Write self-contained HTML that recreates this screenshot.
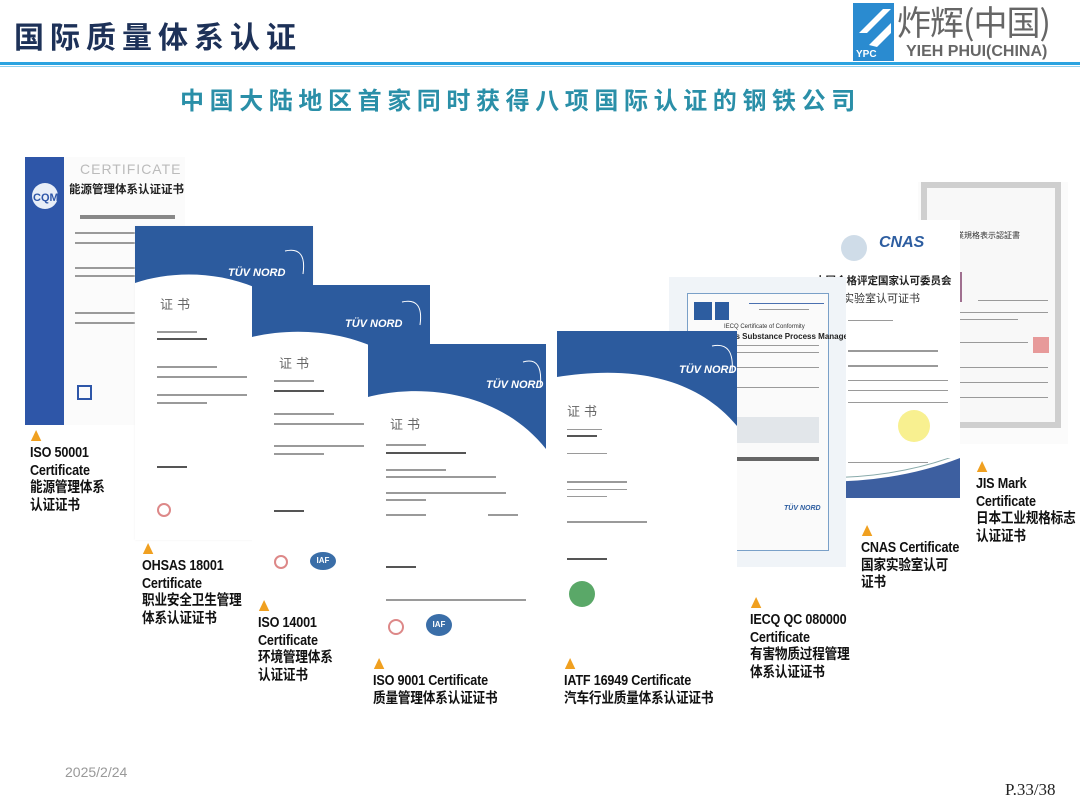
<!DOCTYPE html>
<html><head><meta charset="utf-8"><style>
*{margin:0;padding:0;box-sizing:border-box}
body{width:1080px;height:810px;background:#fff;position:relative;overflow:hidden;font-family:"Liberation Sans","Noto Sans CJK SC",sans-serif}
.a{position:absolute}
.cert{position:absolute;background:#fff;overflow:hidden}
.lab{position:absolute;font-weight:bold;font-size:14.5px;line-height:17.5px;color:#111;font-family:"Liberation Sans","Noto Sans CJK SC",sans-serif;letter-spacing:-0.2px;white-space:nowrap;transform:scaleX(0.87);transform-origin:0 0}
.tri{width:0;height:0;border-left:6px solid transparent;border-right:6px solid transparent;border-bottom:11px solid #f0a020;margin-bottom:4px;margin-left:1px}
.ln{position:absolute;height:2px;background:#9a9a9a}
.zs{position:absolute;font-size:13px;color:#666;font-family:"Noto Sans CJK SC",sans-serif;letter-spacing:4px}
</style></head><body>

<!-- header -->
<div class="a" style="left:14px;top:14px;font-size:30px;font-weight:bold;color:#1d3158;letter-spacing:6px;font-family:'Noto Sans CJK SC',sans-serif;line-height:42px">国际质量体系认证</div>
<div class="a" style="left:0;top:62px;width:1080px;height:3px;background:#2ba3e0"></div>
<div class="a" style="left:0;top:66px;width:1080px;height:1px;background:#8fd0f0"></div>
<svg class="a" style="left:853px;top:3px" width="41" height="58"><rect width="41" height="58" fill="#2a8bd0"/><path d="M6 30 L30 6 L38 6 L14 30 Z M16 42 L38 20 L38 30 L24 44 Z" fill="#fff"/><text x="3" y="54" font-size="10" fill="#fff" font-family="Liberation Sans" font-weight="bold">YPC</text></svg>
<div class="a" style="left:897px;top:0px;font-size:34px;color:#666;font-family:'Noto Sans CJK SC',sans-serif;line-height:42px;letter-spacing:-1px">炸辉(中国)</div>
<div class="a" style="left:906px;top:43px;font-size:16px;font-weight:bold;color:#666;line-height:18px">YIEH PHUI(CHINA)</div>
<div class="a" style="left:180px;top:82px;font-size:24px;font-weight:bold;color:#2a8fa8;letter-spacing:5.6px;font-family:'Noto Sans CJK SC',sans-serif;line-height:34px;white-space:nowrap">中国大陆地区首家同时获得八项国际认证的钢铁公司</div>

<!-- ISO 50001 cert -->
<div class="cert" style="left:25px;top:157px;width:160px;height:268px;background:#fbfbfb">
  <div class="a" style="left:0;top:0;width:39px;height:268px;background:#2e56a8"></div>
  <svg class="a" style="left:6px;top:25px" width="28" height="28"><circle cx="14" cy="14" r="13" fill="#e8eef8"/><text x="2" y="19" font-size="11" font-weight="bold" fill="#2e56a8">CQM</text></svg>
  <div class="a" style="left:55px;top:4px;font-size:14px;color:#bbb;letter-spacing:1px">CERTIFICATE</div>
  <div class="a" style="left:44px;top:24px;font-size:11.5px;font-weight:bold;color:#222;font-family:'Noto Sans CJK SC',sans-serif;white-space:nowrap">能源管理体系认证证书</div>
  <div class="ln" style="left:55px;top:58px;width:95px;height:4px;background:#888"></div>
  <div class="ln" style="left:50px;top:75px;width:60px"></div><div class="ln" style="left:50px;top:85px;width:60px"></div>
  <div class="ln" style="left:50px;top:110px;width:60px"></div><div class="ln" style="left:50px;top:118px;width:60px"></div>
  <div class="ln" style="left:50px;top:155px;width:60px"></div><div class="ln" style="left:50px;top:165px;width:60px"></div>
  <div class="a" style="left:52px;top:228px;width:15px;height:15px;border:2px solid #2e56a8"></div>
</div>

<!-- TUV certs -->
<div class="cert" style="left:135px;top:226px;width:178px;height:314px;box-shadow:0 0 2px #eee">
  <svg class="a" style="left:0;top:0" width="178" height="110"><path d="M0 0 H178 V105 C130 45 50 40 0 57 Z" fill="#2c5b9e"/><text x="93" y="50" font-size="11" font-weight="bold" font-style="italic" fill="#fff">TÜV NORD</text><path d="M150 25 Q172 20 168 48" stroke="#fff" fill="none"/></svg>
  <div class="zs" style="left:25px;top:68px">证书</div>
  <div class="ln" style="left:22px;top:105px;width:40px"></div><div class="ln" style="left:22px;top:112px;width:50px;background:#555"></div>
  <div class="ln" style="left:22px;top:140px;width:60px"></div><div class="ln" style="left:22px;top:150px;width:90px"></div>
  <div class="ln" style="left:22px;top:168px;width:90px"></div><div class="ln" style="left:22px;top:176px;width:50px"></div>
  <div class="ln" style="left:22px;top:240px;width:30px;background:#555"></div>
  <div class="a" style="left:22px;top:277px;width:14px;height:14px;border-radius:50%;border:2px solid #d88"></div>
</div>

<div class="cert" style="left:252px;top:285px;width:178px;height:310px">
  <svg class="a" style="left:0;top:0" width="178" height="110"><path d="M0 0 H178 V105 C130 45 50 40 0 52 Z" fill="#2c5b9e"/><text x="93" y="42" font-size="11" font-weight="bold" font-style="italic" fill="#fff">TÜV NORD</text><path d="M150 17 Q172 12 168 40" stroke="#fff" fill="none"/></svg>
  <div class="zs" style="left:27px;top:68px">证书</div>
  <div class="ln" style="left:22px;top:95px;width:40px"></div><div class="ln" style="left:22px;top:105px;width:50px;background:#555"></div>
  <div class="ln" style="left:22px;top:128px;width:60px"></div><div class="ln" style="left:22px;top:138px;width:90px"></div>
  <div class="ln" style="left:22px;top:160px;width:90px"></div><div class="ln" style="left:22px;top:168px;width:50px"></div>
  <div class="ln" style="left:22px;top:225px;width:30px;background:#555"></div>
  <div class="a" style="left:22px;top:270px;width:14px;height:14px;border-radius:50%;border:2px solid #d88"></div>
  <div class="a" style="left:58px;top:267px;width:26px;height:18px;border-radius:50%;background:#3a6ea8;color:#fff;font-size:8px;text-align:center;line-height:18px;font-weight:bold">IAF</div>
</div>

<div class="cert" style="left:368px;top:344px;width:178px;height:316px">
  <svg class="a" style="left:0;top:0" width="178" height="110"><path d="M0 0 H178 V105 C130 45 50 40 0 53 Z" fill="#2c5b9e"/><text x="118" y="44" font-size="11" font-weight="bold" font-style="italic" fill="#fff">TÜV NORD</text><path d="M155 18 Q176 12 172 44" stroke="#fff" fill="none"/></svg>
  <div class="zs" style="left:22px;top:70px">证书</div>
  <div class="ln" style="left:18px;top:100px;width:40px"></div><div class="ln" style="left:18px;top:108px;width:80px;background:#555"></div>
  <div class="ln" style="left:18px;top:125px;width:60px"></div><div class="ln" style="left:18px;top:132px;width:110px"></div>
  <div class="ln" style="left:18px;top:148px;width:120px"></div><div class="ln" style="left:18px;top:155px;width:40px"></div>
  <div class="ln" style="left:18px;top:170px;width:40px"></div><div class="ln" style="left:120px;top:170px;width:30px"></div>
  <div class="ln" style="left:18px;top:222px;width:30px;background:#555"></div>
  <div class="ln" style="left:18px;top:255px;width:140px"></div>
  <div class="a" style="left:20px;top:275px;width:16px;height:16px;border-radius:50%;border:2px solid #d88"></div>
  <div class="a" style="left:58px;top:270px;width:26px;height:22px;border-radius:50%;background:#3a6ea8;color:#fff;font-size:8px;text-align:center;line-height:22px;font-weight:bold">IAF</div>
</div>

<!-- JIS -->
<div class="cert" style="left:918px;top:182px;width:150px;height:262px;background:#fbfbfb">
  <div class="a" style="left:3px;top:0;width:140px;height:246px;border:6px solid #cfcfcf;background:#f8f8f8"></div>
  <div class="a" style="left:14px;top:48px;font-size:8px;color:#333;font-family:'Noto Sans CJK SC',sans-serif">日本工業規格表示認証書</div>
  <div class="a" style="left:41px;top:90px;width:3px;height:30px;background:#a07090"></div>
  <div class="ln" style="left:60px;top:118px;width:70px;height:1px"></div>
  <div class="ln" style="left:20px;top:130px;width:110px;height:1px"></div><div class="ln" style="left:20px;top:137px;width:80px;height:1px"></div>
  <div class="a" style="left:115px;top:155px;width:16px;height:16px;background:#e79a9a"></div>
  <div class="ln" style="left:20px;top:160px;width:90px;height:1px"></div>
  <div class="ln" style="left:20px;top:185px;width:110px;height:1px"></div><div class="ln" style="left:20px;top:200px;width:110px;height:1px"></div><div class="ln" style="left:20px;top:215px;width:110px;height:1px"></div>
</div>

<!-- CNAS -->
<div class="cert" style="left:783px;top:220px;width:177px;height:278px">
  <div class="a" style="left:58px;top:15px;width:26px;height:26px;border-radius:50%;background:#cfdce8"></div>
  <div class="a" style="left:96px;top:14px;font-size:16px;font-weight:bold;color:#2d5da0;font-style:italic">CNAS</div>
  <div class="a" style="left:32px;top:53px;font-size:10.5px;color:#222;font-family:'Noto Sans CJK SC',sans-serif;font-weight:bold;white-space:nowrap">中国合格评定国家认可委员会</div>
  <div class="a" style="left:60px;top:70px;font-size:11px;color:#333;font-family:'Noto Sans CJK SC',sans-serif">实验室认可证书</div>
  <div class="ln" style="left:65px;top:100px;width:45px;height:1px"></div>
  <div class="ln" style="left:65px;top:130px;width:90px"></div><div class="ln" style="left:65px;top:145px;width:90px"></div>
  <div class="ln" style="left:65px;top:160px;width:100px;height:1px"></div><div class="ln" style="left:65px;top:170px;width:100px;height:1px"></div><div class="ln" style="left:65px;top:182px;width:100px;height:1px"></div>
  <div class="a" style="left:115px;top:190px;width:32px;height:32px;border-radius:50%;background:#f8f090"></div>
  <div class="ln" style="left:65px;top:242px;width:80px;height:1px"></div>
  <svg class="a" style="left:0;top:238px" width="177" height="40"><path d="M0 22 Q100 30 177 0 V40 H0 Z" fill="#3d5fa0"/><path d="M0 18 Q100 26 177 -4" stroke="#8aa" fill="none"/></svg>
</div>

<!-- IECQ -->
<div class="cert" style="left:669px;top:277px;width:177px;height:290px;background:#f0f4f8">
  <div class="a" style="left:18px;top:16px;width:142px;height:258px;border:1px solid #7aa0c8;background:#fafafa"></div>
  <div class="a" style="left:25px;top:25px;width:18px;height:18px;background:#2d5da0"></div>
  <div class="a" style="left:46px;top:25px;width:14px;height:18px;background:#2d5da0"></div>
  <div class="ln" style="left:80px;top:26px;width:75px;height:1px;background:#4a70b0"></div><div class="ln" style="left:90px;top:32px;width:50px;height:1px"></div>
  <div class="a" style="left:55px;top:47px;font-size:6px;color:#333">IECQ Certificate of Conformity</div>
  <div class="a" style="left:30px;top:55px;font-size:8px;font-weight:bold;color:#222;white-space:nowrap">Hazardous Substance Process Management</div>
  <div class="ln" style="left:60px;top:68px;width:90px;height:1px"></div><div class="ln" style="left:60px;top:75px;width:90px;height:1px"></div>
  <div class="ln" style="left:60px;top:90px;width:90px;height:1px"></div><div class="ln" style="left:60px;top:110px;width:90px;height:1px"></div>
  <div class="a" style="left:60px;top:140px;width:90px;height:26px;background:#e2e6ea"></div>
  <div class="ln" style="left:60px;top:180px;width:90px;height:4px;background:#666"></div>
  <div class="a" style="left:115px;top:228px;font-size:7px;font-weight:bold;font-style:italic;color:#2d5da0">TÜV NORD</div>
</div>

<!-- IATF -->
<div class="cert" style="left:557px;top:331px;width:180px;height:290px">
  <svg class="a" style="left:0;top:0" width="180" height="100"><path d="M0 0 H180 V95 C130 35 50 38 0 46 Z" fill="#2c5b9e"/><text x="122" y="42" font-size="11" font-weight="bold" font-style="italic" fill="#fff">TÜV NORD</text><path d="M155 15 Q178 10 175 42" stroke="#fff" fill="none"/></svg>
  <div class="zs" style="left:10px;top:70px">证书</div>
  <div class="ln" style="left:10px;top:98px;width:35px;height:1px"></div><div class="ln" style="left:10px;top:104px;width:30px;background:#555"></div>
  <div class="ln" style="left:10px;top:122px;width:40px;height:1px"></div>
  <div class="ln" style="left:10px;top:150px;width:60px"></div><div class="ln" style="left:10px;top:158px;width:60px;height:1px"></div><div class="ln" style="left:10px;top:165px;width:40px;height:1px"></div>
  <div class="ln" style="left:10px;top:190px;width:80px"></div>
  <div class="ln" style="left:10px;top:227px;width:40px;background:#555"></div>
  <div class="a" style="left:12px;top:250px;width:26px;height:26px;border-radius:50%;background:#5aa868"></div>
</div>

<!-- labels -->
<div class="lab" style="left:30px;top:430px"><div class="tri"></div>ISO 50001<br>Certificate<br>能源管理体系<br>认证证书</div>
<div class="lab" style="left:142px;top:543px"><div class="tri"></div>OHSAS 18001<br>Certificate<br>职业安全卫生管理<br>体系认证证书</div>
<div class="lab" style="left:258px;top:600px"><div class="tri"></div>ISO 14001<br>Certificate<br>环境管理体系<br>认证证书</div>
<div class="lab" style="left:373px;top:658px"><div class="tri"></div>ISO 9001 Certificate<br>质量管理体系认证证书</div>
<div class="lab" style="left:564px;top:658px"><div class="tri"></div>IATF 16949 Certificate<br>汽车行业质量体系认证证书</div>
<div class="lab" style="left:750px;top:597px"><div class="tri"></div>IECQ QC 080000<br>Certificate<br>有害物质过程管理<br>体系认证证书</div>
<div class="lab" style="left:861px;top:525px"><div class="tri"></div>CNAS Certificate<br>国家实验室认可<br>证书</div>
<div class="lab" style="left:976px;top:461px"><div class="tri"></div>JIS Mark<br>Certificate<br>日本工业规格标志<br>认证证书</div>

<!-- footer -->
<div class="a" style="left:65px;top:764px;font-size:14px;color:#999">2025/2/24</div>
<div class="a" style="left:1005px;top:780px;font-size:17px;color:#222;font-family:'Liberation Serif',serif">P.33/38</div>
</body></html>
